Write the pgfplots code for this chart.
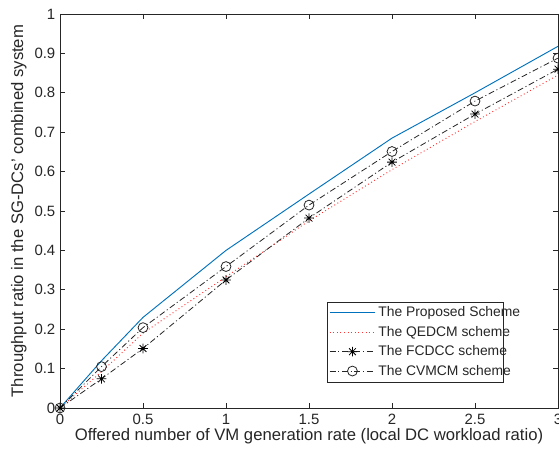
\documentclass[border=0pt]{standalone}
\usepackage{fontspec}
\setmainfont{Liberation Sans}
\usepackage{pgfplots}
\pgfplotsset{compat=1.18}
\usetikzlibrary{calc}
\definecolor{MBlue}{HTML}{0072BD}
\definecolor{Ink}{HTML}{262626}
\pgfdeclareplotmark{mstar}{%
  \pgfpathmoveto{\pgfqpoint{-\pgfplotmarksize}{0pt}}\pgfpathlineto{\pgfqpoint{\pgfplotmarksize}{0pt}}%
  \pgfpathmoveto{\pgfqpoint{0pt}{-\pgfplotmarksize}}\pgfpathlineto{\pgfqpoint{0pt}{\pgfplotmarksize}}%
  \pgfpathmoveto{\pgfqpoint{-.707\pgfplotmarksize}{-.707\pgfplotmarksize}}\pgfpathlineto{\pgfqpoint{.707\pgfplotmarksize}{.707\pgfplotmarksize}}%
  \pgfpathmoveto{\pgfqpoint{-.707\pgfplotmarksize}{.707\pgfplotmarksize}}\pgfpathlineto{\pgfqpoint{.707\pgfplotmarksize}{-.707\pgfplotmarksize}}%
  \pgfusepathqstroke}
\tikzset{dashdot/.style={dash pattern=on 4.5pt off 2pt on 0.8pt off 2pt}}
\begin{document}
\begin{tikzpicture}
\begin{axis}[
  name=ax,
  width=373.5pt, height=295.5pt,
  scale only axis,
  xmin=0, xmax=3, ymin=0, ymax=1,
  xtick={0,0.5,...,3}, ytick={0,0.1,...,1},
  tick align=inside,
  major tick length=3.5pt,
  axis line style={draw=Ink, line width=0.6pt},
  every tick/.style={draw=Ink, line width=0.6pt},
  tick label style={font=\fontsize{11.2}{13}\selectfont, text=Ink},
  label style={font=\fontsize{12.5}{14}\selectfont, text=Ink},
  /pgf/number format/assume math mode=true,
  /pgf/number format/fixed,
  xticklabel style={yshift=-1pt},
  xlabel={Offered number of VM generation rate (local DC workload ratio)},
  ylabel={Throughput ratio in the SG-DCs' combined system},
  xlabel style={yshift=4pt},
  ylabel style={yshift=-1pt},
  legend style={name=leg, at={(0.536,0.066)}, anchor=south west, draw=none,
    font=\fontsize{10.4}{12}\selectfont, text=Ink, inner sep=1.5pt,
    row sep=1.5pt, cells={anchor=west}},
  legend cell align=left,
  legend image code/.code={\draw[mark repeat=2,mark phase=2] plot coordinates {(0cm,0cm) (0.6cm,0cm) (1.2cm,0cm)};},
]
\addplot[MBlue, line width=0.7pt] coordinates {
  (0,0) (0.25,0.12) (0.5,0.23) (1,0.40) (1.5,0.543) (2,0.685) (2.5,0.80) (3,0.918)};
\addlegendentry{The Proposed Scheme}
\addplot[red!80, line width=0.7pt, dotted] coordinates {
  (0,0) (0.25,0.092) (0.5,0.19) (1,0.333) (1.5,0.475) (2,0.605) (2.5,0.727) (3,0.845)};
\addlegendentry{The QEDCM scheme}
\addplot[black!85, line width=0.6pt, dashdot, mark=mstar, mark size=3.6pt,
  mark options={solid, line width=0.6pt, black}] coordinates {
  (0,0) (0.25,0.074) (0.5,0.151) (1,0.325) (1.5,0.482) (2,0.624) (2.5,0.746) (3,0.86)};
\addlegendentry{The FCDCC scheme}
\addplot[black!85, line width=0.6pt, dashdot, mark=o, mark size=3.7pt,
  mark options={solid, line width=0.6pt, black!85}] coordinates {
  (0,0) (0.25,0.105) (0.5,0.204) (1,0.359) (1.5,0.515) (2,0.651) (2.5,0.779) (3,0.888)};
\addlegendentry{The CVMCM scheme}
\end{axis}
% legend frame drawn by hand: pgfplots leaves extra room right of the text
\draw[Ink, line width=0.5pt] (leg.north west) rectangle ($(leg.south east)+(-16pt,0)$);
\pgfresetboundingbox
\path[use as bounding box] ($(ax.south west)+(-45pt,-36.75pt)$) rectangle ($(ax.north east)+(0.75pt,10.5pt)$);
\end{tikzpicture}
\end{document}
